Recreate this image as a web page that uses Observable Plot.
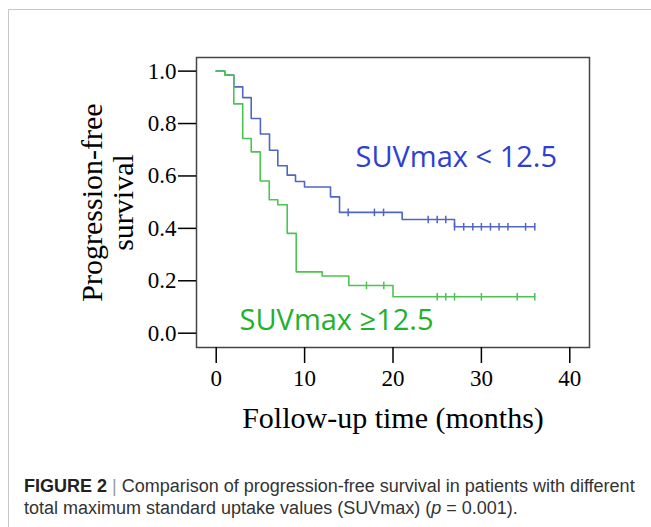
<!DOCTYPE html>
<html><head><meta charset="utf-8">
<script src="https://cdn.jsdelivr.net/npm/d3@7"></script>
<script src="https://cdn.jsdelivr.net/npm/@observablehq/plot@0.6"></script>
<style>
html,body{margin:0;padding:0;background:#fff;}
#wrap{position:relative;width:651px;height:527px;overflow:hidden;background:#fff;}
#frameTop{position:absolute;left:8px;top:9px;right:0;height:0;border-top:1px solid #c8c8c8;}
#frameLeft{position:absolute;left:8px;top:9px;bottom:0;width:0;border-left:1px solid #c8c8c8;}
#chart{position:absolute;left:0;top:0;}
#caption{position:absolute;left:24px;top:475px;width:625px;font-family:"Liberation Sans",Arial,sans-serif;font-size:18px;line-height:22px;color:#333;white-space:nowrap;}
#caption b{color:#222;}
#caption .bar{color:#999;}
</style></head>
<body>
<div id="wrap">
  <div id="frameTop"></div>
  <div id="frameLeft"></div>
  <div id="chart"></div>
  <div id="caption"><b>FIGURE 2</b> <span class="bar">|</span> Comparison of progression-free survival in patients with different<br>total maximum standard uptake values (SUVmax) (<i>p</i> = 0.001).</div>
</div>
<script>
// SUVmax < 12.5 (blue) Kaplan-Meier steps
const lowTime = [0, 0.97, 1.99, 3.0, 3.96, 5.0, 6.03, 6.97, 8.03, 8.97, 9.99, 12.93, 13.95, 21.04, 26.96, 36.04];
const lowSurv = [1.0, 0.985, 0.940, 0.899, 0.819, 0.760, 0.698, 0.639, 0.603, 0.579, 0.558, 0.520, 0.461, 0.434, 0.406, 0.406];
const lowCensor = [14.93, 17.9, 18.93, 23.98, 25.0, 25.97, 26.96, 28.0, 29.03, 30.0, 31.03, 32.0, 33.0, 35.0, 36.04];

// SUVmax >= 12.5 (green) Kaplan-Meier steps
const highTime = [0, 0.97, 1.99, 3.0, 3.96, 4.98, 6.0, 6.97, 8.03, 9.05, 11.99, 15.0, 20.0, 36.04];
const highSurv = [1.0, 0.985, 0.875, 0.743, 0.692, 0.581, 0.509, 0.490, 0.381, 0.234, 0.218, 0.182, 0.139, 0.139];
const highCensor = [17.0, 18.96, 25.0, 25.97, 26.96, 30.0, 34.05, 36.04];

const xTicks = [0, 10, 20, 30, 40];
const yTicks = [0, 0.2, 0.4, 0.6, 0.8, 1.0];

const groupLabels = ["SUVmax < 12.5", "SUVmax \u226512.5"];
const labelX = [15.76, 2.64];
const labelY = [0.671, 0.048];

const xTitle = "Follow-up time (months)";
const yTitle = ["Progression-free", "survival"];

const blueLine = "#4f66c2", greenLine = "#4cc452";
const blueText = "#2e3fd2", greenText = "#1fb22a";

function steps(times, survs) { return times.map((t, i) => ({t, s: survs[i]})); }
function survAt(times, survs, t) {
  let s = survs[0];
  for (let i = 0; i < times.length; i++) if (times[i] <= t + 1e-9) s = survs[i];
  return s;
}
const lowData = steps(lowTime, lowSurv);
const highData = steps(highTime, highSurv);
const lowCens = lowCensor.map(t => ({t, s: survAt(lowTime, lowSurv, t)}));
const highCens = highCensor.map(t => ({t, s: survAt(highTime, highSurv, t)}));
const labels = groupLabels.map((text, i) => ({text, t: labelX[i], s: labelY[i], c: i === 0 ? blueText : greenText}));

const vbar = {draw(context, size) { const r = Math.sqrt(size / Math.PI); context.moveTo(0, -r); context.lineTo(0, r); }};

const chart = Plot.plot({
  width: 651, height: 460,
  marginLeft: 196, marginRight: 62, marginTop: 57, marginBottom: 113,
  x: {domain: [-2.23, 42.23]},
  y: {domain: [-0.0546, 1.052]},
  style: {fontFamily: "'Liberation Serif', 'Times New Roman', serif", fontSize: "23px", color: "#000", background: "transparent", overflow: "visible"},
  marks: [
    Plot.frame({stroke: "#444", strokeWidth: 1.5}),
    Plot.axisX({ticks: xTicks, tickSize: 16, tickPadding: 6, tickFormat: d => String(d), label: null, strokeWidth: 1.5, fontSize: 23}),
    Plot.axisY({ticks: yTicks, tickSize: 18, tickPadding: 2, tickFormat: d => d.toFixed(1), label: null, strokeWidth: 1.5, fontSize: 23}),
    Plot.line(lowData, {x: "t", y: "s", curve: "step-after", stroke: blueLine, strokeWidth: 1.6}),
    Plot.line(highData, {x: "t", y: "s", curve: "step-after", stroke: greenLine, strokeWidth: 1.6}),
    Plot.dot(lowCens, {x: "t", y: "s", symbol: vbar, r: 3.8, stroke: blueLine, strokeWidth: 1.5, fill: "none"}),
    Plot.dot(highCens, {x: "t", y: "s", symbol: vbar, r: 3.8, stroke: greenLine, strokeWidth: 1.5, fill: "none"}),
    Plot.text(labels, {x: "t", y: "s", text: "text", fill: "c", textAnchor: "start", fontSize: 29, fontFamily: "'Open Sans', 'Noto Sans', sans-serif"}),
    Plot.text([xTitle], {frameAnchor: "bottom", textAnchor: "middle", lineAnchor: "middle", dy: 71, fontSize: 30, fill: "#000"}),
    Plot.text([yTitle[0]], {frameAnchor: "left", textAnchor: "middle", lineAnchor: "middle", dx: -104, rotate: -90, fontSize: 30, fill: "#000"}),
    Plot.text([yTitle[1]], {frameAnchor: "left", textAnchor: "middle", lineAnchor: "middle", dx: -73, rotate: -90, fontSize: 30, fill: "#000"})
  ]
});
document.getElementById("chart").appendChild(chart);
</script>
</body></html>
